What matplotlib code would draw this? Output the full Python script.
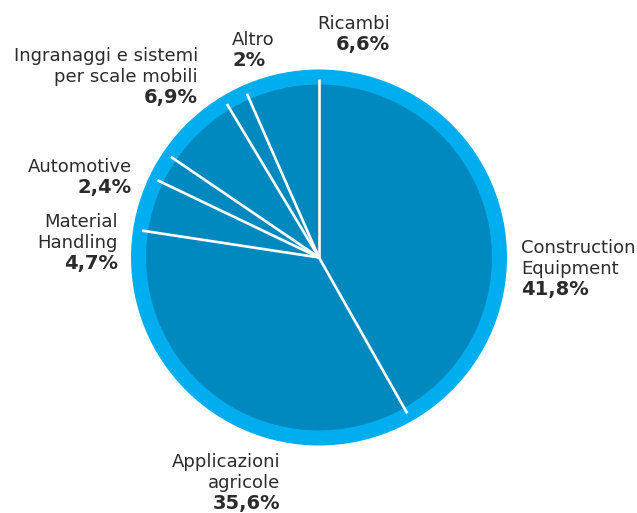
import matplotlib
matplotlib.use("Agg")
import matplotlib.pyplot as plt
from matplotlib.patches import Circle
import numpy as np

# Revenue breakdown by sector (%)
sectors = [
    "Construction\nEquipment",
    "Applicazioni\nagricole",
    "Material\nHandling",
    "Automotive",
    "Ingranaggi e sistemi\nper scale mobili",
    "Altro",
    "Ricambi",
]
shares = [41.8, 35.6, 4.7, 2.4, 6.9, 2.0, 6.6]

W, H = 637, 513
fig = plt.figure(figsize=(W / 100, H / 100), dpi=100)
ax = fig.add_axes([0, 0, 1, 1])


def py(y):
    """Convert a top-down pixel row into data y."""
    return H - y


cx, cy = 319, py(257.5)
r_outer, r_inner, r_line = 188, 172.5, 179

ring_col = "#00AEEF"
fill_col = "#0089BF"
text_col = "#2B2B2B"

# outer light ring
ax.add_patch(Circle((cx, cy), r_outer, facecolor=ring_col, edgecolor="none", zorder=1))

# slices
wedges, _ = ax.pie(
    shares,
    center=(cx, cy),
    radius=r_inner,
    startangle=90,
    counterclock=False,
    colors=[fill_col] * len(shares),
    wedgeprops=dict(linewidth=0.6, edgecolor=fill_col),
)
for w in wedges:
    w.set_zorder(2)

# white separators at every slice boundary
cum = np.cumsum([0] + shares[:-1]) / sum(shares)
for frac in cum:
    th = np.deg2rad(90 - 360 * frac)
    ax.plot([cx, cx + r_line * np.cos(th)], [cy, cy + r_line * np.sin(th)],
            color="white", lw=1.9, solid_capstyle="butt", zorder=3)

# label anchors: (x, first baseline row in pixels, alignment)
label_pos = [
    (521, 253, "left"),
    (280, 467, "right"),
    (118, 227, "right"),
    (132, 172, "right"),
    (198, 61, "right"),
    (232, 45, "left"),
    (390, 29, "right"),
]
line_gap = 21
name_size = 13
value_size = 14

for name, val, (x, y0, ha) in zip(sectors, shares, label_pos):
    lines = name.split("\n")
    for i, ln in enumerate(lines):
        ax.text(x, py(y0 + i * line_gap), ln, ha=ha, va="baseline",
                fontsize=name_size, color=text_col, family="DejaVu Sans")
    pct = (f"{val:.1f}" if val % 1 else f"{val:.0f}").replace(".", ",") + "%"
    ax.text(x, py(y0 + len(lines) * line_gap), pct, ha=ha, va="baseline",
            fontsize=value_size, fontweight="bold", color=text_col,
            family="DejaVu Sans")

ax.set_xlim(0, W)
ax.set_ylim(0, H)
ax.set_aspect("equal")
ax.axis("off")

fig.savefig("out.png", dpi=100, facecolor="white")
